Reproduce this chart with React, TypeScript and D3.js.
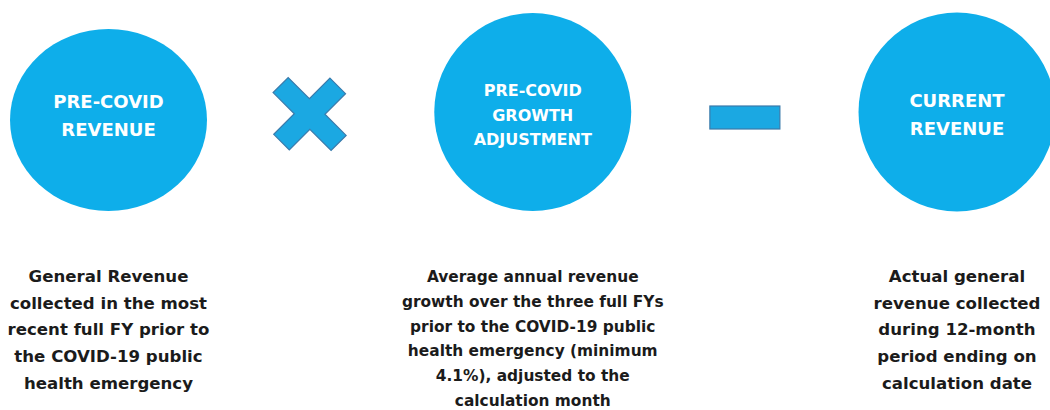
import React, { useEffect, useRef } from "react";
import * as d3 from "d3";

// the three terms of the formula
const titles: string[][] = [
  ["PRE-COVID", "REVENUE"],
  ["PRE-COVID", "GROWTH", "ADJUSTMENT"],
  ["CURRENT", "REVENUE"],
];

const descriptions: string[][] = [
  ["General Revenue", "collected in the most", "recent full FY prior to", "the COVID-19 public", "health emergency"],
  [
    "Average annual revenue",
    "growth over the three full FYs",
    "prior to the COVID-19 public",
    "health emergency (minimum",
    "4.1%), adjusted to the",
    "calculation month",
  ],
  ["Actual general", "revenue collected", "during 12-month", "period ending on", "calculation date"],
];

const operators = ["times", "minus"];

const steps = ["term0", "op0", "term1", "op1", "term2"];

const W = 1050;
const H = 410;
const BLUE = "#0eaeea";
const OP_FILL = "#1ba8e2";
const OP_STROKE = "#3a7aab";

export default function App() {
  const svgRef = useRef<SVGSVGElement>(null);

  useEffect(() => {
    if (!svgRef.current) return;
    const svg = d3.select(svgRef.current);
    svg.selectAll("*").remove();

    const x = d3.scalePoint<string>().domain(steps).range([108.5, 957]);

    // circle shapes (first one is a bit flatter in the picture)
    const shape = [
      { cy: 120, rx: 98.5, ry: 91, fs: 18, lh: 28, y0: 108 },
      { cy: 112, rx: 98.5, ry: 99, fs: 16, lh: 24.5, y0: 96 },
      { cy: 112, rx: 98.5, ry: 99.5, fs: 18, lh: 28, y0: 107 },
    ];

    const terms = svg
      .selectAll("g.term")
      .data(titles)
      .join("g")
      .attr("class", "term");

    terms
      .append("ellipse")
      .attr("cx", (_, i) => x(`term${i}`)!)
      .attr("cy", (_, i) => shape[i].cy)
      .attr("rx", (_, i) => shape[i].rx)
      .attr("ry", (_, i) => shape[i].ry)
      .attr("fill", BLUE);

    terms
      .append("text")
      .attr("text-anchor", "middle")
      .attr("font-family", "DejaVu Sans, sans-serif")
      .attr("font-weight", "bold")
      .attr("font-size", (_, i) => shape[i].fs)
      .attr("fill", "#fff")
      .each(function (lines, i) {
        const cx = x(`term${i}`)!;
        const s = shape[i];
        d3.select(this)
          .selectAll("tspan")
          .data(lines)
          .join("tspan")
          .attr("x", cx)
          .attr("y", (_, j) => s.y0 + j * s.lh)
          .text((d) => d);
      });

    // descriptions below
    svg
      .selectAll("text.desc")
      .data(descriptions)
      .join("text")
      .attr("class", "desc")
      .attr("text-anchor", "middle")
      .attr("font-family", "DejaVu Sans, sans-serif")
      .attr("font-weight", "bold")
      .attr("font-size", (_, i) => (i === 1 ? 15.4 : 16.6))
      .attr("fill", "#1b1b1b")
      .each(function (lines, i) {
        const cx = x(`term${i}`)!;
        const step = i === 1 ? 24.8 : 26.7;
        d3.select(this)
          .selectAll("tspan")
          .data(lines)
          .join("tspan")
          .attr("x", cx)
          .attr("y", (_, j) => 282 + j * step)
          .text((d) => d);
      });

    // operators
    const a = 11;
    const L = 41;
    const plus: [number, number][] = [
      [-a, -L], [a, -L], [a, -a], [L, -a], [L, a], [a, a],
      [a, L], [-a, L], [-a, a], [-L, a], [-L, -a], [-a, -a],
    ];

    operators.forEach((op, i) => {
      const cx = x(`op${i}`)!;
      if (op === "times") {
        svg
          .append("path")
          .attr("d", d3.line()(plus) + "Z")
          .attr("transform", `translate(${cx - 11},114) rotate(45) scale(1,0.97)`)
          .attr("fill", OP_FILL)
          .attr("stroke", OP_STROKE)
          .attr("stroke-width", 1.2);
      } else {
        svg
          .append("rect")
          .attr("x", cx - 35)
          .attr("y", 106)
          .attr("width", 70)
          .attr("height", 23)
          .attr("fill", OP_FILL)
          .attr("stroke", OP_STROKE)
          .attr("stroke-width", 1.2);
      }
    });
  }, []);

  return (
    <svg
      ref={svgRef}
      width={W}
      height={H}
      style={{ position: "absolute", left: 0, top: 0, background: "#fff" }}
    />
  );
}
